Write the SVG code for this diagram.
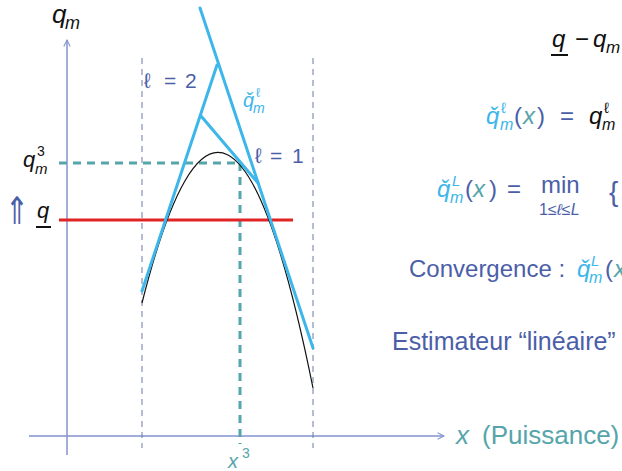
<svg xmlns="http://www.w3.org/2000/svg" width="622" height="471" viewBox="0 0 622 471">
<style>
text{font-family:"Liberation Sans",Arial,sans-serif}
.i{font-style:italic}
.k{fill:#111}
.s{fill:#4b5ea8}
.b{fill:#3db6ea}
.t{fill:#55a5ab}
.sym{font-family:"DejaVu Sans",sans-serif}
.axis{stroke:#8393cc;stroke-width:1.5;fill:none}
.guide{stroke:#6b7aa6;stroke-width:1;stroke-dasharray:6 5;fill:none}
.teal{stroke:#55a5ab;stroke-width:3;stroke-dasharray:8 6;fill:none}
.tan{stroke:#3db6ea;stroke-width:3;fill:none;stroke-linecap:round}
</style>
<defs>
<marker id="arr" viewBox="0 0 10 10" refX="9" refY="5" markerWidth="8" markerHeight="8" orient="auto" markerUnits="userSpaceOnUse">
<path d="M1,1 L9,5 L1,9" fill="none" stroke="#8393cc" stroke-width="1.3"/>
</marker>
</defs>
<rect width="622" height="471" fill="#fff"/>
<g id="connectors">
<line class="axis" x1="67" y1="455" x2="67" y2="40" marker-end="url(#arr)"/>
<line class="axis" x1="29" y1="436" x2="444" y2="436" marker-end="url(#arr)"/>
<line class="guide" x1="142" y1="58" x2="142" y2="448"/>
<line class="guide" x1="313" y1="58" x2="313" y2="448"/>
<line class="teal" x1="59" y1="163" x2="240" y2="163"/>
<line class="teal" x1="240" y1="163" x2="240" y2="444"/>
<line x1="59" y1="220" x2="293" y2="220" stroke="#e02424" stroke-width="3"/>
<path d="M142,303 Q227.5,-36 313,388" fill="none" stroke="#111" stroke-width="1.2"/>
<line class="tan" x1="200" y1="8" x2="313" y2="348"/>
<line class="tan" x1="142" y1="291" x2="217" y2="65"/>
<line class="tan" x1="201" y1="116" x2="258" y2="183"/>
</g>
<g id="label-qm"><text class="i k" x="52" y="23" font-size="26">q</text><text class="i k" x="65" y="29" font-size="18">m</text></g>
<g id="label-qm3"><text class="i k" x="23" y="167" font-size="22">q</text><text class="k" x="37" y="156" font-size="14">3</text><text class="i k" x="35" y="174" font-size="15">m</text></g>
<g id="label-qlow"><text class="sym s" transform="translate(5,224) scale(0.75,1)" font-size="38">⇑</text><text class="i k" x="37" y="218" font-size="22">q</text><line x1="36" y1="227" x2="51" y2="227" stroke="#111" stroke-width="2"/></g>
<g id="label-l2"><text class="s" x="144" y="88" font-size="21">ℓ<tspan x="164">=</tspan><tspan x="185">2</tspan></text></g>
<g id="label-l1"><text class="s" x="255" y="163" font-size="21">ℓ<tspan x="270">=</tspan><tspan x="292">1</tspan></text></g>
<g id="label-qcheck"><text class="i b" x="243" y="107" font-size="20">q̌</text><text class="b" x="256" y="97" font-size="13">ℓ</text><text class="i b" x="253" y="113" font-size="14">m</text></g>
<g id="label-x3"><text class="i t" x="228" y="468" font-size="20">x</text><text class="t" x="242" y="458" font-size="14">3</text></g>
<g id="label-xaxis"><text class="i t" x="456" y="444" font-size="26">x</text><text class="t" x="482" y="444" font-size="26">(Puissance)</text></g>
<g id="eq1"><text class="i k" x="552" y="47" font-size="24">q</text><line x1="551" y1="55" x2="568" y2="55" stroke="#111" stroke-width="2"/><text class="k" x="575" y="47" font-size="24">−</text><text class="i k" x="593" y="47" font-size="24">q</text><text class="i k" x="606" y="53" font-size="17">m</text></g>
<g id="eq2"><text class="i b" x="486" y="124" font-size="24">q̌</text><text class="b" x="501" y="113" font-size="15">ℓ</text><text class="i b" x="500" y="130" font-size="16">m</text><text class="s" x="514" y="124" font-size="24">(</text><text class="i t" x="523" y="124" font-size="24">x</text><text class="s" x="537" y="124" font-size="24">)</text><text class="s" x="560" y="124" font-size="24">=</text><text class="i k" x="589" y="124" font-size="24">q</text><text class="k" x="604" y="113" font-size="15">ℓ</text><text class="i k" x="602" y="130" font-size="16">m</text></g>
<g id="eq3"><text class="i b" x="437" y="197" font-size="24">q̌</text><text class="i b" x="452" y="186" font-size="15">L</text><text class="i b" x="450" y="203" font-size="16">m</text><text class="s" x="465" y="197" font-size="24">(</text><text class="i t" x="473" y="197" font-size="24">x</text><text class="s" x="489" y="197" font-size="24">)</text><text class="s" x="507" y="197" font-size="24">=</text><text class="s" x="541" y="193" font-size="24">min</text><text class="s" x="539" y="215" font-size="16">1≤<tspan class="i">ℓ</tspan>≤<tspan class="i">L</tspan></text><text class="s" x="609" y="201" font-size="28">{</text></g>
<g id="eq4"><text class="s" x="409" y="277" font-size="24">Convergence :</text><text class="i b" x="577" y="277" font-size="24">q̌</text><text class="i b" x="591" y="266" font-size="15">L</text><text class="i b" x="589" y="283" font-size="16">m</text><text class="s" x="605" y="277" font-size="24">(</text><text class="i t" x="614" y="277" font-size="24">x</text></g>
<g id="eq5"><text class="s" x="392" y="350" font-size="25">Estimateur “linéaire”</text></g>
</svg>
